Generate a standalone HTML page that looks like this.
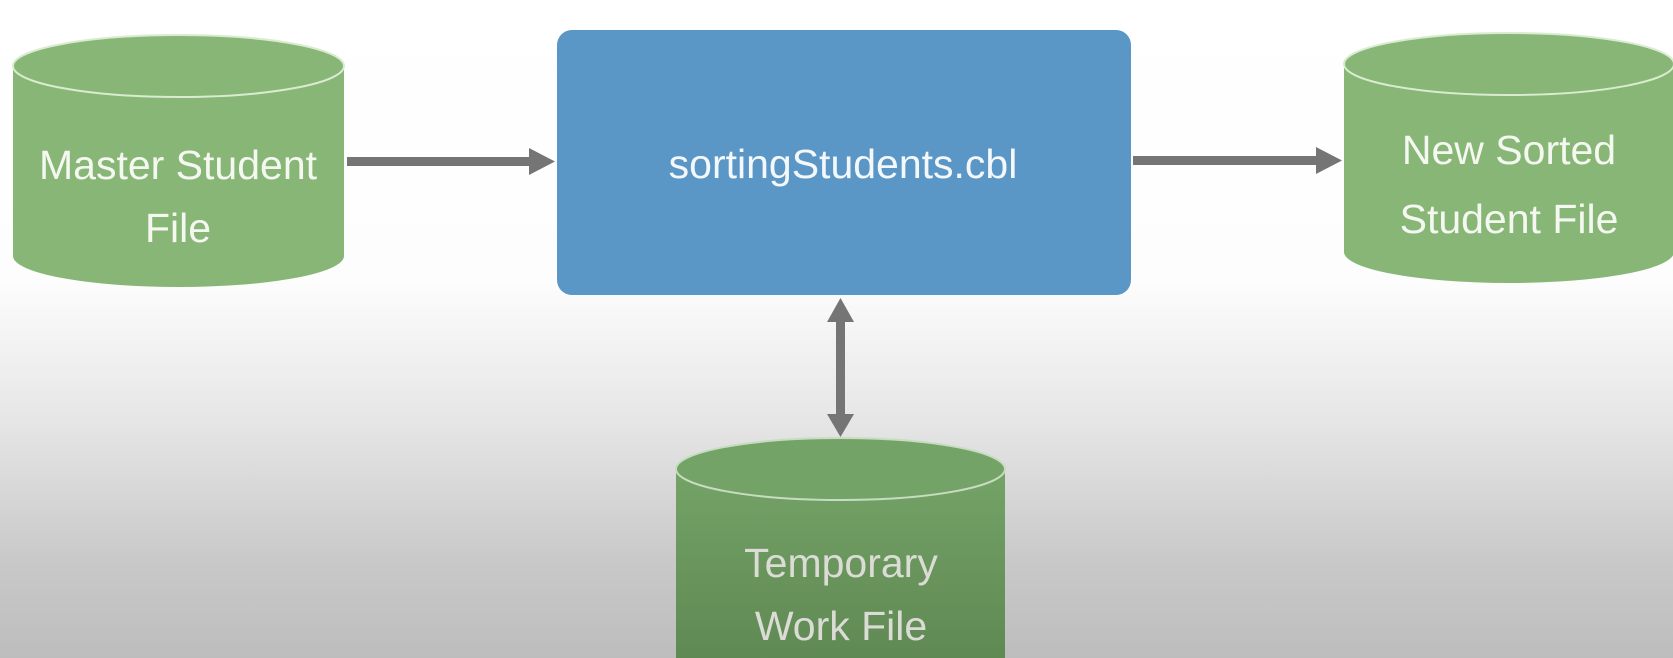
<!DOCTYPE html>
<html><head><meta charset="utf-8"><style>
html,body{margin:0;padding:0}
body{width:1673px;height:658px;overflow:hidden;background:linear-gradient(to bottom,#ffffff 0px,#fdfdfd 280px,#e6e6e6 420px,#c9c9c9 560px,#bdbdbd 658px);}
svg{position:absolute;left:0;top:0}
text{font-family:"Liberation Sans",sans-serif;font-size:41px;text-anchor:middle}
</style></head><body>
<svg width="1673" height="658" viewBox="0 0 1673 658">
<defs>
<linearGradient id="gb" x1="0" y1="0" x2="0" y2="1"><stop offset="0" stop-color="#74a367"/><stop offset="1" stop-color="#5f8953"/></linearGradient>
</defs>
<path d="M13 66 L13 256 A165.5 31 0 0 0 344 256 L344 66 Z" fill="#88b677"/>
<ellipse cx="178.5" cy="66" rx="165.5" ry="31" fill="#88b677" stroke="#d9ecd0" stroke-width="2"/>
<text x="178" y="179" fill="#f4f8f0">Master Student</text>
<text x="178" y="242" fill="#f4f8f0">File</text>
<path d="M1344 64 L1344 252 A165 31 0 0 0 1674 252 L1674 64 Z" fill="#88b677"/>
<ellipse cx="1509" cy="64" rx="165" ry="31" fill="#88b677" stroke="#d9ecd0" stroke-width="2"/>
<text x="1509" y="164" fill="#f4f8f0">New Sorted</text>
<text x="1509" y="233" fill="#f4f8f0">Student File</text>
<rect x="557" y="30" width="574" height="265" rx="15" fill="#5b97c6"/>
<text x="843" y="178" fill="#f4f8fb">sortingStudents.cbl</text>
<path d="M676 469 L676 660 L1005 660 L1005 469 Z" fill="url(#gb)"/>
<ellipse cx="840.5" cy="469" rx="164.5" ry="31" fill="#74a367" stroke="#c8dcc0" stroke-width="2"/>
<text x="841" y="577" fill="#dcdcd6">Temporary</text>
<text x="841" y="640" fill="#dcdcd6">Work File</text>
<rect x="347" y="157" width="185" height="9" fill="#757575"/>
<polygon points="529,148 555,161.5 529,175" fill="#757575"/>
<rect x="1133" y="156" width="186" height="9" fill="#757575"/>
<polygon points="1316,147 1342,160.5 1316,174" fill="#757575"/>
<rect x="836" y="318" width="9" height="100" fill="#757575"/>
<polygon points="827,322 840.5,298 854,322" fill="#757575"/>
<polygon points="827,414 840.5,437 854,414" fill="#757575"/>
</svg>
</body></html>
